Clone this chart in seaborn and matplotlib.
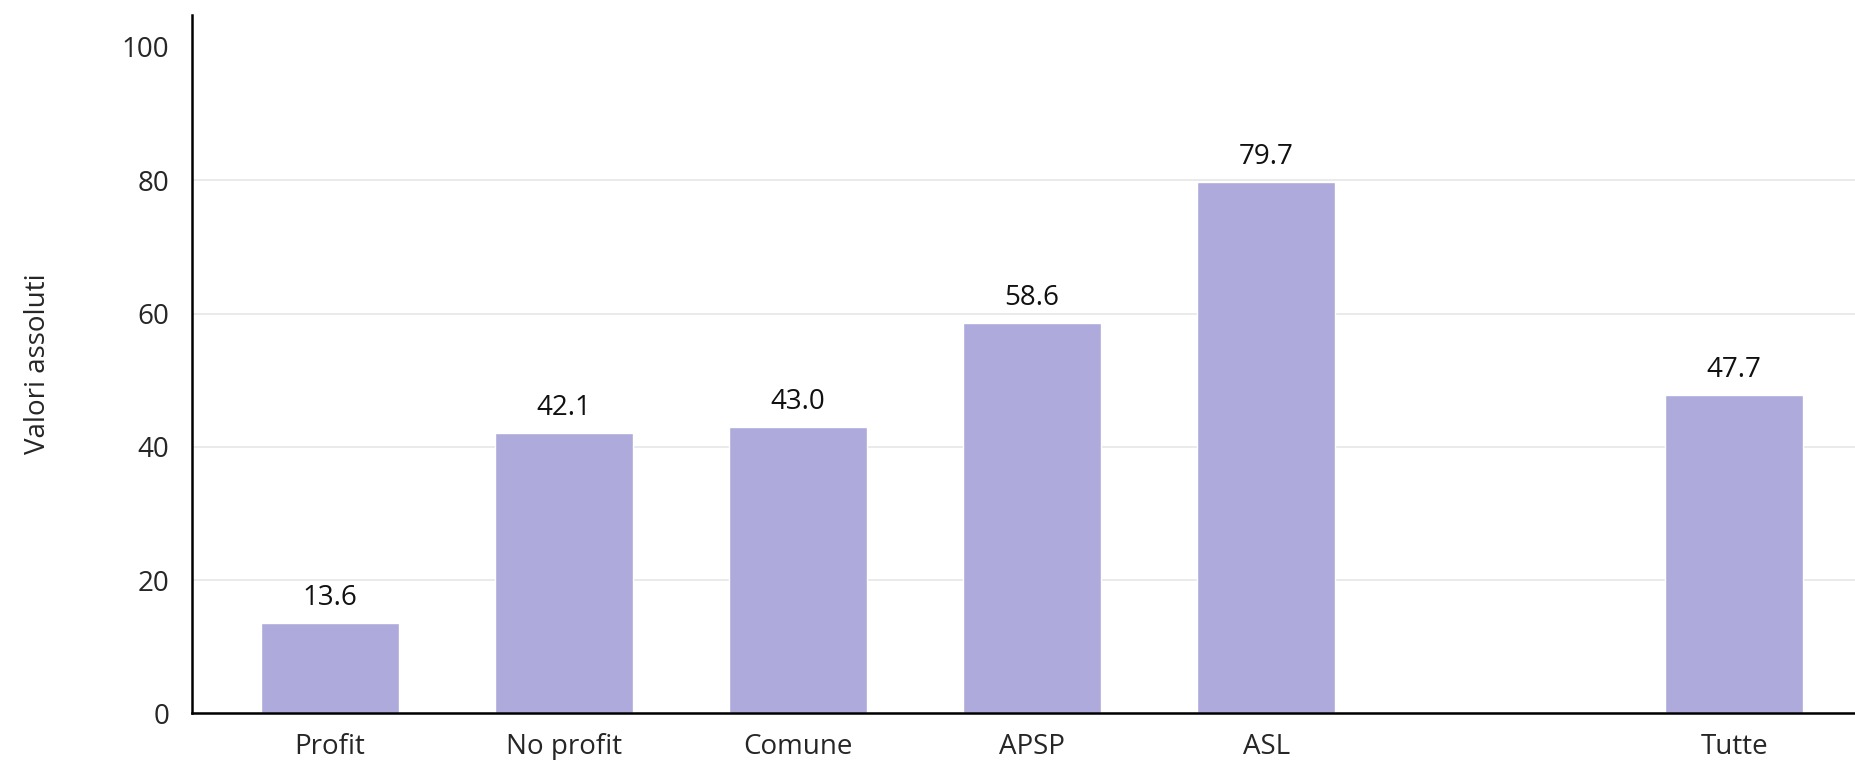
import pandas as pd
import matplotlib
matplotlib.use('Agg')
import matplotlib.pyplot as plt
import seaborn as sns

# data
categories = ['Profit', 'No profit', 'Comune', 'APSP', 'ASL', 'Tutte']
values = [13.6, 42.1, 43.0, 58.6, 79.7, 47.7]
# blank slot between ASL and the total
order = ['Profit', 'No profit', 'Comune', 'APSP', 'ASL', ' ', 'Tutte']
y_ticks = [0, 20, 40, 60, 80, 100]

df = pd.DataFrame({'tipo': categories, 'valore': values})

sns.set_style('white')
plt.rcParams['font.family'] = ['Open Sans', 'DejaVu Sans']

fig = plt.figure(figsize=(18.56, 7.6), dpi=100)
ax = fig.add_axes([0.1033, 0.0614, 0.8967, 0.9189])

sns.barplot(data=df, x='tipo', y='valore', order=order, color='#aeaadc',
            saturation=1, width=0.59, ax=ax)

for c in ax.containers:
    ax.bar_label(c, fmt='%.1f', padding=8, fontsize=20, color='#111111')

ax.set_ylim(0, 104.8)
ax.set_xlim(-0.59, 6.52)
ax.set_yticks(y_ticks)
ax.yaxis.grid(True, color='#e6e6e6', linewidth=1.2)
ax.set_axisbelow(True)
ax.get_ygridlines()[-1].set_visible(False)

sns.despine(ax=ax, top=True, right=True)
for side in ['left', 'bottom']:
    ax.spines[side].set_color('black')
    ax.spines[side].set_linewidth(1.8)

ax.tick_params(axis='y', length=12, width=1.8, color='black', labelsize=20, pad=4)
ax.tick_params(axis='x', length=0, labelsize=20, pad=14)
ax.set_xlabel('')
ax.set_ylabel('Valori assoluti', fontsize=20, labelpad=50)

plt.savefig('out.png', dpi=100)
